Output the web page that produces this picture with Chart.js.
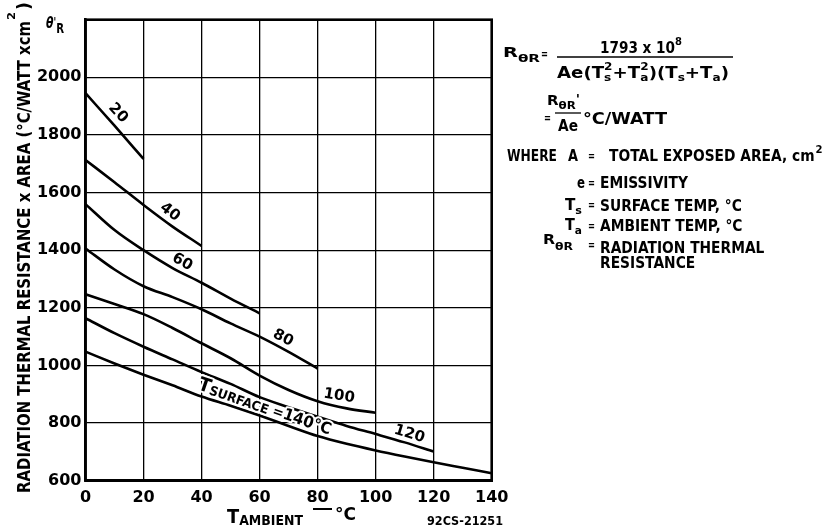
<!DOCTYPE html>
<html>
<head>
<meta charset="utf-8">
<style>
html,body{margin:0;padding:0;background:#fff;}
#wrap{width:835px;height:528px;position:relative;overflow:hidden;}
canvas{display:block;}
</style>
<script src="https://cdn.jsdelivr.net/npm/chart.js@4.4.0/dist/chart.umd.min.js"></script>
</head>
<body>
<div id="wrap"><canvas id="c" width="835" height="528"></canvas></div>
<script>
// ---- data (°C/W x cm²) ----
const ambientC = [0,10,20,30,40,50,60,70,80,90,100,110,120,130,140];
const xTickValues = [0,20,40,60,80,100,120,140];
const yTickValues = [600,800,1000,1200,1400,1600,1800,2000];
const surfaceTemps = [20,40,60,80,100,120,140];
const rTs20  = [1945,1832,1717];
const rTs40  = [1713,1636,1557,1482,1415];
const rTs60  = [1560,1470,1400,1338,1287,1232,1181];
const rTs80  = [1406,1333,1275,1237,1195,1146,1100,1047,989];
const rTs100 = [1247,1213,1178,1130,1077,1025,965,915,876,851,836];
const rTs120 = [1164,1112,1065,1021,977,936,890,855,822,790,762,733,701];
const rTs140 = [1048,1007,968,931,892,860,826,790,755,728,705,684,664,645,626];
const seriesValues = [rTs20,rTs40,rTs60,rTs80,rTs100,rTs120,rTs140];

const FAM = '"DejaVu Sans"';
function fnt(s, w, st){ return [(st||''),(w||'bold'),s+'px',FAM].join(' ').trim(); }

function drawSeq(ctx, segs, x, y, width, opt){
  opt = opt || {};
  ctx.save();
  let total = 0; const ws = [];
  for (const g of segs){
    let w;
    if (g.stack){ w = Math.max(...g.stack.map(q=>{ctx.font=fnt(q.s,q.w,q.st);return ctx.measureText(q.t).width;})); }
    else { ctx.font = fnt(g.s,g.w,g.st); w = ctx.measureText(g.t).width; }
    ws.push(w); total += w;
  }
  const k = width ? width/total : (opt.k || 1);
  ctx.translate(x,y);
  if (opt.rot) ctx.rotate(opt.rot);
  ctx.scale(k,1);
  ctx.fillStyle = '#000';
  ctx.textAlign = 'left';
  ctx.textBaseline = 'alphabetic';
  let startX = 0;
  if (opt.align === 'center') startX = -total/2;
  if (opt.align === 'right') startX = -total;
  if (opt.halo){
    let cx = startX;
    ctx.strokeStyle = '#fff'; ctx.lineWidth = opt.halo; ctx.lineJoin = 'round';
    segs.forEach((g,i)=>{ (g.stack||[g]).forEach(q=>{ctx.font=fnt(q.s,q.w,q.st); ctx.strokeText(q.t,cx,q.dy||0);}); cx += ws[i]; });
  }
  let cx = startX;
  segs.forEach((g,i)=>{ (g.stack||[g]).forEach(q=>{ctx.font=fnt(q.s,q.w,q.st); ctx.fillText(q.t,cx,q.dy||0);}); cx += ws[i]; });
  ctx.restore();
  return total * k;
}
function T(ctx, t, x, y, s, width, opt){
  return drawSeq(ctx, [{t:t, s:s}], x, y, width, opt);
}

const curveLabels = [
  {text:'20',  x:11.2, y:1876, rot:47},
  {text:'40',  x:29.1, y:1532, rot:37},
  {text:'60',  x:33.3, y:1359, rot:30},
  {text:'80',  x:68.1, y:1095, rot:27},
  {text:'100', x:87.4, y:894,  rot:9},
  {text:'120', x:111.6,y:762,  rot:17}
];

const annot = {
  id:'annot',
  afterDatasetsDraw(chart){
    const ctx = chart.ctx, xs = chart.scales.x, ys = chart.scales.y;
    curveLabels.forEach(l=>{
      const px = xs.getPixelForValue(l.x), py = ys.getPixelForValue(l.y);
      ctx.save();
      ctx.translate(px,py);
      ctx.rotate(l.rot*Math.PI/180);
      ctx.font = fnt(15);
      ctx.textAlign='center'; ctx.textBaseline='middle';
      ctx.fillStyle='#000';
      ctx.fillText(l.text,0,0);
      ctx.restore();
    });
    // T SURFACE = 140 °C label
    const sx = xs.getPixelForValue(38.4), sy = ys.getPixelForValue(918);
    drawSeq(ctx, [{t:'T',s:19},{t:'SURFACE',s:13,dy:1},{t:' =',s:14},{t:'140°C',s:16}], sx, sy, 140, {rot:19*Math.PI/180, halo:4});
    // frame
    const a = chart.chartArea;
    ctx.save();
    ctx.strokeStyle='#000'; ctx.lineWidth=2.6;
    ctx.strokeRect(a.left, a.top, a.right-a.left, a.bottom-a.top);
    ctx.restore();
  },
  afterDraw(chart){
    const ctx = chart.ctx;
    // y axis title (rotated)
    ctx.save();
    ctx.translate(30, 493);
    ctx.rotate(-Math.PI/2);
    T(ctx, 'RADIATION THERMAL RESISTANCE x AREA (°C/WATT xcm', 0, 0, 17, 472);
    T(ctx, '2', 473, -15, 11, 8);
    T(ctx, ')', 483, 0, 17, 8);
    ctx.restore();
    // theta'R
    drawSeq(ctx, [{t:'θ',s:15,st:'italic'},{t:"'",s:12,dy:-2},{t:'R',s:14,dy:5}], 46, 28, 18);
    // x axis title
    drawSeq(ctx, [{t:'T',s:20},{t:'AMBIENT',s:14,dy:2}], 227, 523, 76);
    ctx.save(); ctx.strokeStyle='#000'; ctx.lineWidth=2; ctx.beginPath(); ctx.moveTo(313,509); ctx.lineTo(332,509); ctx.stroke(); ctx.restore();
    T(ctx, '°C', 335, 520, 17, 21);
    T(ctx, '92CS-21251', 427, 525, 13, 76);
    // right-hand formulas
    const K = {k:0.92};
    drawSeq(ctx, [{t:'R',s:14},{t:'θR',s:11,dy:5}], 503, 57, 37);
    T(ctx, '=', 541, 58, 12, 7);
    drawSeq(ctx, [{t:'1793 x 10',s:15},{t:'8',s:11,dy:-8}], 600, 53, 82);
    ctx.save(); ctx.strokeStyle='#000'; ctx.lineWidth=1.5; ctx.beginPath(); ctx.moveTo(557,57); ctx.lineTo(733,57); ctx.stroke(); ctx.restore();
    drawSeq(ctx, [
      {t:'Ae(T',s:15},{stack:[{t:'2',s:10,dy:-8},{t:'s',s:10,dy:3}]},
      {t:'+T',s:15},{stack:[{t:'2',s:10,dy:-8},{t:'a',s:10,dy:3}]},
      {t:')(T',s:15},{t:'s',s:10,dy:3},{t:'+T',s:15},{t:'a',s:10,dy:3},{t:')',s:15}
    ], 557, 78, 172);
    drawSeq(ctx, [{t:'R',s:14},{t:'θR',s:11,dy:4},{t:"'",s:13,dy:-2}], 547, 105, 33);
    ctx.save(); ctx.strokeStyle='#000'; ctx.lineWidth=1.3; ctx.beginPath(); ctx.moveTo(555,113); ctx.lineTo(581,113); ctx.stroke(); ctx.restore();
    T(ctx, '=', 544, 122, 12, 7);
    T(ctx, 'Ae', 558, 131, 15, 20);
    T(ctx, '°C/WATT', 583, 124, 15, 84);
    // WHERE block
    T(ctx, 'WHERE', 507, 161, 15, 50);
    T(ctx, 'A', 568, 161, 15, 10);
    T(ctx, '=', 588, 160, 12, 7);
    const wA = T(ctx, 'TOTAL EXPOSED AREA, cm', 609, 161, 15, null, K);
    T(ctx, '2', 609 + wA + 1, 153, 11, null, K);
    T(ctx, 'e', 577, 188, 15, 8);
    T(ctx, '=', 588, 187, 12, 7);
    T(ctx, 'EMISSIVITY', 600, 188, 15, null, K);
    drawSeq(ctx, [{t:'T',s:15},{t:'s',s:11,dy:4}], 565, 210, 17);
    T(ctx, '=', 588, 209, 12, 7);
    T(ctx, 'SURFACE TEMP, °C', 600, 211, 15, null, K);
    drawSeq(ctx, [{t:'T',s:15},{t:'a',s:11,dy:4}], 565, 230, 17);
    T(ctx, '=', 588, 230, 12, 7);
    T(ctx, 'AMBIENT TEMP, °C', 600, 231, 15, null, K);
    drawSeq(ctx, [{t:'R',s:14},{t:'θR',s:11,dy:6}], 543, 244, 30);
    T(ctx, '=', 588, 249, 12, 7);
    T(ctx, 'RADIATION THERMAL', 600, 253, 15, null, K);
    T(ctx, 'RESISTANCE', 600, 268, 15, null, K);
  }
};

const datasets = seriesValues.map((vals, i) => ({
  label: 'T surface ' + surfaceTemps[i] + ' °C',
  data: vals.map((v, j) => ({x: ambientC[j], y: v})),
  borderColor: '#000',
  borderWidth: 2.6,
  pointRadius: 0,
  fill: false,
  cubicInterpolationMode: 'monotone'
}));

new Chart(document.getElementById('c'), {
  type: 'line',
  data: { datasets },
  options: {
    responsive: false,
    animation: false,
    devicePixelRatio: 1,
    layout: { padding: { left: 0, right: 343.3, top: 19.7, bottom: 0 } },
    plugins: { legend: {display:false}, tooltip: {enabled:false} },
    scales: {
      x: {
        type: 'linear', min: 0, max: 140,
        afterBuildTicks: s => { s.ticks = xTickValues.map(v=>({value:v})); },
        afterFit: s => { s.height = 47.3; },
        ticks: { color:'#000', padding: 8, maxRotation:0, callback: v => String(v), font:{family:'DejaVu Sans', weight:'bold', size:16} },
        grid: { color:'#000', lineWidth:1.3, drawTicks:false },
        border: { display:true, color:'#000', width:2.6 }
      },
      y: {
        type: 'linear', min: 600, max: 2200,
        afterBuildTicks: s => { s.ticks = yTickValues.map(v=>({value:v})); },
        afterFit: s => { s.width = 85.5; },
        ticks: { color:'#000', padding: 4, callback: v => String(v), font:{family:'DejaVu Sans', weight:'bold', size:16} },
        grid: { color:'#000', lineWidth:1.3, drawTicks:false },
        border: { display:true, color:'#000', width:2.6 }
      }
    }
  },
  plugins: [annot]
});
</script>
</body>
</html>
